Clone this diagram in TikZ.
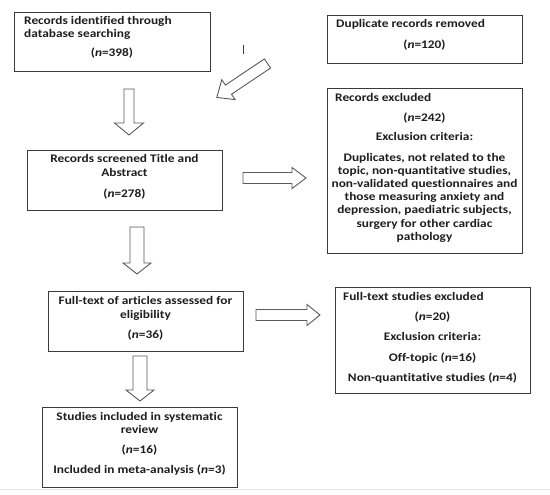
\documentclass[tikz,border=0pt]{standalone}
\usepackage{fontspec}
\setmainfont{Carlito}[FakeStretch=1.15,Ligatures={NoCommon}]
\definecolor{txtc}{HTML}{1E1E1E}
\definecolor{boxc}{HTML}{3A3A3A}
\definecolor{arrc}{HTML}{5A5A5A}
\definecolor{edgec}{HTML}{E6E6E6}
\newcommand\blockarr[7]{%
  \begin{scope}[shift={(#1,#2)},rotate=#3]
    \draw[barrowstyle] (0,-#5) -- ({#4-#7},-#5) -- ({#4-#7},-#6) -- (#4,0)
      -- ({#4-#7},#6) -- ({#4-#7},#5) -- (0,#5) -- cycle;
  \end{scope}}
\newcommand\nn{\textit{n}}
\begin{document}
\begin{tikzpicture}[x=1pt,y=-1pt,
  boxstyle/.style={draw=boxc,line width=1.2pt,inner sep=0pt,anchor=north west},
  txt/.style={inner sep=0pt,anchor=base,text=txtc,font=\fontsize{11.6}{13}\selectfont\bfseries},
  txtl/.style={txt,anchor=base west},
  barrowstyle/.style={draw=arrc,line width=0.9pt,fill=white,line join=miter}]
\useasboundingbox (0,0) rectangle (550,495);
\fill[white] (0,0) rectangle (550,495);
\draw[edgec,line width=1pt] (0,489) -- (550,489);
% boxes
\node[boxstyle,minimum width=196pt,minimum height=59pt] (b1) at (14,12) {};
\node[boxstyle,minimum width=195pt,minimum height=48pt] (b2) at (327,15) {};
\node[boxstyle,minimum width=195pt,minimum height=60pt] (b3) at (27,150) {};
\node[boxstyle,minimum width=195pt,minimum height=165pt] (b4) at (327,88) {};
\node[boxstyle,minimum width=195pt,minimum height=60pt] (b5) at (48,291) {};
\node[boxstyle,minimum width=195pt,minimum height=106pt] (b6) at (335,287) {};
\node[boxstyle,minimum width=195pt,minimum height=80pt] (b7) at (42,407) {};
% box 1
\node[txtl] (t1a) at (24,25) {Records identified through};
\node[txtl] (t1b) at (24,38) {database searching};
\node[txt] (t1c) at (112,57) {(\nn=398)};
% box 2
\node[txtl] (t2a) at (336,28) {Duplicate records removed};
\node[txt] (t2b) at (424.5,49) {(\nn=120)};
% box 3
\node[txt] (t3a) at (124.5,163) {Records screened Title and};
\node[txt] (t3b) at (124.5,177) {Abstract};
\node[txt] (t3c) at (124.5,197) {(\nn=278)};
% box 4
\node[txtl] (t4a) at (335,102) {Records excluded};
\node[txt] (t4b) at (424.5,122) {(\nn=242)};
\node[txt] (t4c) at (424.5,141) {Exclusion criteria:};
\node[txt] (t4d) at (424.5,161.5) {Duplicates, not related to the};
\node[txt] (t4e) at (424.5,174.6) {topic, non-quantitative studies,};
\node[txt] (t4f) at (424.5,187.7) {non-validated questionnaires and};
\node[txt] (t4g) at (424.5,200.8) {those measuring anxiety and};
\node[txt] (t4h) at (424.5,213.9) {depression, paediatric subjects,};
\node[txt] (t4i) at (424.5,227) {surgery for other cardiac};
\node[txt] (t4j) at (424.5,240.1) {pathology};
% box 5
\node[txt] (t5a) at (145.5,305) {Full-text of articles assessed for};
\node[txt] (t5b) at (145.5,318) {eligibility};
\node[txt] (t5c) at (145.5,338) {(\nn=36)};
% box 6
\node[txtl] (t6a) at (343,300) {Full-text studies excluded};
\node[txt] (t6b) at (432.5,320) {(\nn=20)};
\node[txt] (t6c) at (432.5,340) {Exclusion criteria:};
\node[txt] (t6d) at (432.5,361) {Off-topic (\nn=16)};
\node[txt] (t6e) at (432.5,381) {Non-quantitative studies (\nn=4)};
% box 7
\node[txt] (t7a) at (139.5,420) {Studies included in systematic};
\node[txt] (t7b) at (139.5,433) {review};
\node[txt] (t7c) at (139.5,453) {(\nn=16)};
\node[txt] (t7d) at (139.5,473) {Included in meta-analysis (\nn=3)};
% stray mark
\coordinate (m1) at (243,45);
\coordinate (m2) at (243,54);
\draw[boxc,line width=1pt] (m1) -- (m2);
% block arrows
\blockarr{129}{89}{-90}{46}{5}{14.5}{12}
\blockarr{137}{227}{-90}{47}{7}{14}{11}
\blockarr{140}{356}{-90}{45}{7}{14}{11}
\blockarr{243}{178}{0}{63}{5.5}{10.5}{14}
\blockarr{256}{315}{0}{64}{5.5}{10.5}{13}
\blockarr{267.5}{63.5}{213.8}{61}{5.5}{12}{14}
\end{tikzpicture}
\end{document}
